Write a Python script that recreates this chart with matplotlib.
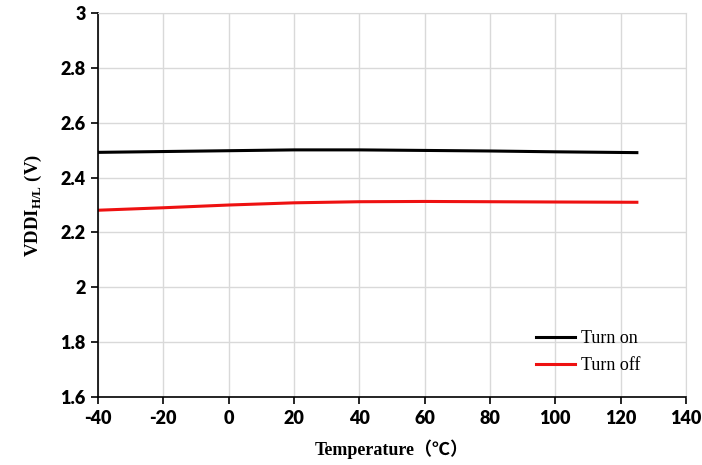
import matplotlib
matplotlib.use("Agg")
import matplotlib.pyplot as plt

temps = [-40, -20, 0, 20, 40, 60, 80, 100, 125]
turn_on = [2.492, 2.495, 2.498, 2.501, 2.501, 2.499, 2.497, 2.494, 2.491]
turn_off = [2.281, 2.290, 2.300, 2.308, 2.312, 2.313, 2.312, 2.311, 2.310]
xticks = [-40, -20, 0, 20, 40, 60, 80, 100, 120, 140]
yticks = [1.6, 1.8, 2.0, 2.2, 2.4, 2.6, 2.8, 3.0]
ytick_labels = ["1.6", "1.8", "2", "2.2", "2.4", "2.6", "2.8", "3"]

plt.rcParams['axes.unicode_minus'] = False
plt.rcParams['mathtext.fontset'] = 'custom'
plt.rcParams['mathtext.rm'] = 'Liberation Serif:bold'
plt.rcParams['mathtext.bf'] = 'Liberation Serif:bold'

fig = plt.figure(figsize=(7.02, 4.65), dpi=100)
ax = fig.add_axes([0.1396, 0.1462, 0.8374, 0.8258])

ax.plot(temps, turn_on, color='black', lw=2.2, label='Turn on')
ax.plot(temps, turn_off, color='#ee1111', lw=2.2, label='Turn off')

ax.set_xlim(-40, 140)
ax.set_ylim(1.6, 3.0)
ax.set_xticks(xticks)
ax.set_xticklabels([str(t) for t in xticks])
ax.set_yticks(yticks)
ax.set_yticklabels(ytick_labels)
ax.grid(True, color='#d9d9d9', lw=1)
ax.set_axisbelow(True)
for s in ['top', 'right']:
    ax.spines[s].set_color('#d9d9d9')
for s in ['left', 'bottom']:
    ax.spines[s].set_color('black')
    ax.spines[s].set_linewidth(1.2)
ax.tick_params(axis='both', direction='out', length=5, width=1.2, color='black', pad=4)
for lab in ax.get_xticklabels() + ax.get_yticklabels():
    lab.set_fontfamily('Lato')
    lab.set_fontweight('heavy')
    lab.set_fontsize(13)

ax.set_xlabel('Temperature（℃）', family=['Liberation Serif', 'Noto Sans CJK SC'],
              fontweight='bold', fontsize=13, labelpad=9)
ax.set_ylabel(r'VDDI$_{\mathrm{H/L}}$ (V)', family='Liberation Serif',
              fontweight='bold', fontsize=13.5, labelpad=12)

leg = ax.legend(loc='lower right', bbox_to_anchor=(0.95, 0.018), frameon=False,
                prop={'family': 'Liberation Serif', 'size': 13},
                handlelength=2.2, handletextpad=0.3, labelspacing=0.55)

fig.savefig('out.png', dpi=100)
